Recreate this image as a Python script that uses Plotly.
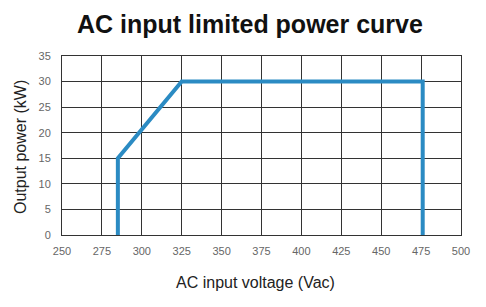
import plotly.graph_objects as go

voltage = [285, 285, 325, 476, 476]
power = [0, 15, 30, 30, 0]
x_ticks = [250, 275, 300, 325, 350, 375, 400, 425, 450, 475, 500]
y_ticks = [0, 5, 10, 15, 20, 25, 30, 35]

title_text = "AC input limited power curve"
x_title = "AC input voltage (Vac)"
y_title = "Output power (kW)"

FONT = "Liberation Sans, Arial, sans-serif"
GRID = "#333333"

fig = go.Figure()
fig.add_trace(go.Scatter(
    x=voltage, y=power, mode="lines",
    line=dict(color="#2b8bc3", width=4),
    hoverinfo="skip", showlegend=False,
))

fig.update_layout(
    width=486, height=307,
    margin=dict(l=62, r=25, t=56, b=72),
    paper_bgcolor="white", plot_bgcolor="white",
    font=dict(family=FONT, color="#555555", size=11),
    showlegend=False,
    annotations=[
        dict(text="<b>" + title_text + "</b>", xref="paper", yref="paper",
             x=(249.5 - 62) / 399, y=1 + (56 - 24) / 179, xanchor="center", yanchor="middle",
             showarrow=False, font=dict(family=FONT, size=25, color="#111111")),
        dict(text=x_title, xref="paper", yref="paper",
             x=(255.5 - 62) / 399, y=-(282 - 235) / 179, xanchor="center", yanchor="middle",
             showarrow=False, font=dict(family=FONT, size=16, color="#222222")),
        dict(text=y_title, xref="paper", yref="paper", textangle=-90,
             x=(20 - 62) / 399, y=(235 - 147) / 179, xanchor="center", yanchor="middle",
             showarrow=False, font=dict(family=FONT, size=16, color="#222222")),
    ],
)

fig.update_xaxes(
    range=[250, 500], tickvals=x_ticks, showgrid=True, gridcolor=GRID, gridwidth=1,
    showline=True, linecolor=GRID, linewidth=1, mirror=True, zeroline=False,
    ticks="", ticklabelstandoff=6, tickfont=dict(size=11, color="#666666"),
)
fig.update_yaxes(
    range=[0, 35], tickvals=y_ticks, showgrid=True, gridcolor=GRID, gridwidth=1,
    showline=True, linecolor=GRID, linewidth=1, mirror=True, zeroline=False,
    ticks="", ticklabelstandoff=8, tickfont=dict(size=11, color="#666666"),
)

fig.write_html("out.html")
